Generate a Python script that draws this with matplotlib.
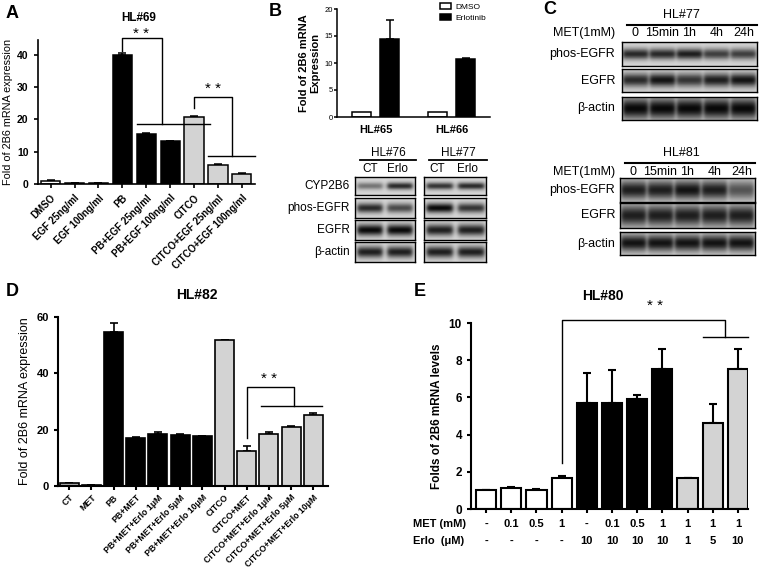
import numpy as np
import matplotlib
matplotlib.use('Agg')
import matplotlib.pyplot as plt

plt.rcParams['font.family'] = ['Liberation Sans', 'DejaVu Sans']

# ---- panel A (HL#69) ----
a_labels = ['DMSO', 'EGF 25ng/ml', 'EGF 100ng/ml', 'PB', 'PB+EGF 25ng/ml', 'PB+EGF 100ng/ml',
            'CITCO', 'CITCO+EGF 25ng/ml', 'CITCO+EGF 100ng/ml']
a_vals = [1.0, 0.4, 0.3, 39.8, 15.4, 13.2, 20.6, 5.8, 3.2]
a_errs = [0.1, 0.05, 0.05, 0.6, 0.3, 0.2, 0.3, 0.3, 0.1]
a_colors = ['white'] * 3 + ['black'] * 3 + ['#d3d3d3'] * 3

# ---- panel B ----
b_groups = ['HL#65', 'HL#66']
b_dmso = [1.0, 1.0]
b_erlo = [14.5, 10.8]
b_erlo_err = [3.5, 0.2]
b_rows = ['CYP2B6', 'phos-EGFR', 'EGFR', 'β-actin']
b_hl76 = [[0.45, 0.8], [0.8, 0.65], [0.95, 0.95], [0.85, 0.85]]
b_hl77 = [[0.75, 0.8], [0.95, 0.75], [0.85, 0.85], [0.85, 0.85]]

# ---- panel C ----
c_lanes = ['0', '15min', '1h', '4h', '24h']
c_rows = ['phos-EGFR', 'EGFR', 'β-actin']
c_hl77 = [[0.8, 0.8, 0.85, 0.7, 0.7], [0.8, 0.9, 0.75, 0.85, 0.9], [0.95, 0.95, 0.95, 0.95, 0.95]]
c_hl81 = [[0.85, 0.85, 0.9, 0.85, 0.6], [0.85, 0.85, 0.85, 0.85, 0.85], [0.9, 0.9, 0.9, 0.9, 0.9]]

# ---- panel D (HL#82) ----
d_labels = ['CT', 'MET', 'PB', 'PB+MET', 'PB+MET+Erlo 1μM', 'PB+MET+Erlo 5μM', 'PB+MET+Erlo 10μM',
            'CITCO', 'CITCO+MET', 'CITCO+MET+Erlo 1μM', 'CITCO+MET+Erlo 5μM', 'CITCO+MET+Erlo 10μM']
d_vals = [1.0, 0.3, 54.8, 17.0, 18.6, 18.2, 17.7, 51.7, 12.4, 18.6, 20.8, 25.2]
d_errs = [0.2, 0.1, 3.0, 0.4, 0.5, 0.4, 0.2, 0.3, 1.8, 0.6, 0.5, 0.6]
d_colors = ['#a8a8a8', '#a8a8a8'] + ['black'] * 5 + ['#d3d3d3'] * 5

# ---- panel E (HL#80) ----
e_vals = [1.0, 1.12, 1.03, 1.65, 5.72, 5.7, 5.93, 7.52, 1.68, 4.65, 7.52]
e_errs = [0.02, 0.06, 0.02, 0.15, 1.6, 1.8, 0.22, 1.1, 0.0, 1.0, 1.1]
e_colors = ['white'] * 4 + ['black'] * 4 + ['#d3d3d3'] * 3
e_met = ['-', '0.1', '0.5', '1', '-', '0.1', '0.5', '1', '1', '1', '1']
e_erlo = ['-', '-', '-', '-', '10', '10', '10', '10', '1', '5', '10']

W, H = 759, 570
fig = plt.figure(figsize=(W / 100, H / 100), dpi=100)


def box(l, t, r, b):
    return [l / W, 1 - b / H, (r - l) / W, (b - t) / H]


def ftxt(x, y, s, **kw):
    kw.setdefault('va', 'center')
    fig.text(x / W, 1 - y / H, s, **kw)


def style(ax, lw=1.3, fs=8):
    for s in ['top', 'right']:
        ax.spines[s].set_visible(False)
    for s in ['left', 'bottom']:
        ax.spines[s].set_linewidth(lw)
    ax.tick_params(axis='y', width=lw, length=3, labelsize=fs)
    ax.tick_params(axis='x', width=lw, length=3)
    for t in ax.get_yticklabels():
        t.set_fontweight('bold')


def bars(ax, vals, errs, colors, width=0.8, lw=1.2):
    x = np.arange(len(vals))
    ax.bar(x, vals, width=width, color=colors, edgecolor='black', linewidth=lw, zorder=2)
    ax.errorbar(x, vals, yerr=[np.zeros(len(vals)), errs], fmt='none', ecolor='black',
                elinewidth=lw, capsize=3, capthick=lw, zorder=1)
    return x


def bracket(ax, xs, ys, lw=1.0):
    ax.plot(xs, ys, color='black', lw=lw, clip_on=False)


def blot(l, t, r, b, intens, sigma, half=0.42):
    ax = fig.add_axes(box(l, t, r, b))
    n = len(intens)
    nx, ny = 60 * n, 40
    xs = (np.arange(nx) + 0.5) / nx * n
    ys = (np.arange(ny) + 0.5) / ny
    img = np.full((ny, nx), 0.84)
    vp = np.exp(-0.5 * ((ys - 0.5) / sigma) ** 2)
    for i, v in enumerate(intens):
        hp = 1 / (1 + np.exp((np.abs(xs - (i + 0.5)) - half) / 0.04))
        img -= 0.85 * v * np.outer(vp, hp)
    ax.imshow(np.clip(img, 0, 1), cmap='gray', vmin=0, vmax=1, extent=(0, n, 0, 1),
              aspect='auto', interpolation='bilinear')
    ax.set_xticks([])
    ax.set_yticks([])
    for s in ax.spines.values():
        s.set_linewidth(1.0)
    return ax


# ================= A =================
axA = fig.add_axes(box(37.5, 40, 255, 184))
xa = bars(axA, a_vals, a_errs, a_colors, width=0.8, lw=1.1)
axA.set_xlim(-0.55, 8.55)
axA.set_ylim(0, 44.5)
axA.set_yticks([0, 10, 20, 30, 40])
axA.set_xticks(xa)
style(axA, lw=1.2, fs=7.5)
axA.set_xticklabels(a_labels, rotation=45, ha='right', rotation_mode='anchor',
                    fontsize=7, fontweight='bold')
axA.set_ylabel('Fold of 2B6 mRNA expression', fontsize=7.8, labelpad=3)
bracket(axA, [3, 3, 4.65, 4.65], [41, 45, 45, 18.4])
bracket(axA, [3.6, 6.67], [18.4, 18.4])
bracket(axA, [6, 6, 7.6, 7.6], [23.5, 26.8, 26.8, 8.5])
bracket(axA, [6.6, 8.55], [8.5, 8.5])
axA.text(3.8, 46.3, '* *', ha='center', va='center', fontsize=11, clip_on=False)
axA.text(6.8, 29.3, '* *', ha='center', va='center', fontsize=11)
ftxt(139, 18, 'HL#69', fontsize=8.5, fontweight='bold', ha='center')
ftxt(6, 13, 'A', fontsize=13, fontweight='bold')

# ================= B =================
axB = fig.add_axes(box(337, 9, 490, 117))
xb = np.arange(len(b_groups))
axB.bar(xb - 0.184, b_dmso, width=0.25, color='white', edgecolor='black', lw=1.1, label='DMSO')
axB.bar(xb + 0.184, b_erlo, width=0.25, color='black', edgecolor='black', lw=1.1, label='Erlotinib')
axB.errorbar(xb + 0.184, b_erlo, yerr=[np.zeros(2), b_erlo_err], fmt='none', ecolor='black',
             elinewidth=1.1, capsize=3, capthick=1.1)
axB.set_xlim(-0.51, 1.5)
axB.set_ylim(0, 20)
axB.set_yticks([0, 5, 10, 15, 20])
axB.set_xticks(xb)
style(axB, lw=1.1, fs=5.5)
axB.set_xticklabels(b_groups, fontsize=8, fontweight='bold')
for t in axB.get_yticklabels():
    t.set_fontweight('normal')
axB.tick_params(axis='x', length=0, pad=6)
axB.tick_params(axis='y', length=2, pad=1)
axB.set_ylabel('Fold of 2B6 mRNA\nExpression', fontsize=8, fontweight='bold', labelpad=3)
axB.legend(loc='upper left', bbox_to_anchor=(440 / W, 1 - 3 / H), bbox_transform=fig.transFigure,
           fontsize=6, frameon=False, handlelength=1.3, handleheight=0.8, handletextpad=0.5,
           labelspacing=0.3, borderpad=0, borderaxespad=0)
ftxt(269, 11, 'B', fontsize=13, fontweight='bold')

b_row_px = [(177, 195), (198, 218), (220, 240), (242, 262)]
b_sig = [0.14, 0.17, 0.2, 0.2]
for (x0, x1, data, title, lx) in [(355, 415, b_hl76, 'HL#76', (370, 397)),
                                  (424, 486, b_hl77, 'HL#77', (437, 468))]:
    for (t, b), vals, sg in zip(b_row_px, data, b_sig):
        blot(x0, t, x1, b, vals, sg)
    ftxt((x0 + x1) / 2 + 3, 153, title, fontsize=8.5, ha='center')
    fig.add_artist(plt.Line2D([(x0 + 5) / W, (x1 + 1) / W], [1 - 160 / H] * 2, color='black', lw=1.3))
    ftxt(lx[0], 169, 'CT', fontsize=8.5, ha='center')
    ftxt(lx[1], 169, 'Erlo', fontsize=8.5, ha='center')
for (t, b), name in zip(b_row_px, b_rows):
    ftxt(350, (t + b) / 2, name, fontsize=8.5, ha='right')

# ================= C =================
ftxt(543, 9, 'C', fontsize=13, fontweight='bold')
c_sets = [(c_hl77, 'HL#77', 15, 25, 33, [(42, 66), (69, 92), (97, 120)], (622, 757), [0.16, 0.2, 0.32]),
          (c_hl81, 'HL#81', 153, 163, 172, [(178, 202), (203, 228), (232, 255)], (620, 755), [0.28, 0.3, 0.25])]
for data, title, ty, ly, my, rows, (x0, x1), sigs in c_sets:
    for (t, b), vals, sg, name in zip(rows, data, sigs, c_rows):
        blot(x0, t, x1, b, vals, sg, half=0.47)
        ftxt(615, (t + b) / 2, name, fontsize=9, ha='right')
    ftxt(681, ty, title, fontsize=9, ha='center')
    fig.add_artist(plt.Line2D([(x0 + 5) / W, x1 / W], [1 - ly / H] * 2, color='black', lw=1.5))
    ftxt(615, my, 'MET(1mM)', fontsize=9, ha='right')
    lane_w = (x1 - x0) / len(c_lanes)
    for i, lab in enumerate(c_lanes):
        ftxt(x0 + lane_w * (i + 0.5), my, lab, fontsize=9, ha='center')

# ================= D =================
axD = fig.add_axes(box(58, 317, 328, 486))
xd = bars(axD, d_vals, d_errs, d_colors, width=0.86, lw=1.2)
axD.set_xlim(-0.5, 11.66)
axD.set_ylim(0, 60)
axD.set_yticks([0, 20, 40, 60])
axD.set_xticks(xd)
style(axD, lw=1.5, fs=8)
axD.set_xticklabels(d_labels, rotation=45, ha='right', rotation_mode='anchor',
                    fontsize=6.3, fontweight='bold')
axD.tick_params(axis='x', pad=2)
axD.set_ylabel('Fold of 2B6 mRNA expression', fontsize=9, labelpad=4)
bracket(axD, [8, 8, 10.15, 10.15], [16.9, 35, 35, 28.3])
bracket(axD, [8.66, 11.4], [28.3, 28.3])
axD.text(9.0, 38, '* *', ha='center', va='center', fontsize=11)
ftxt(197, 295, 'HL#82', fontsize=10, fontweight='bold', ha='center')
ftxt(6, 292, 'D', fontsize=13, fontweight='bold')

# ================= E =================
axE = fig.add_axes(box(471, 323, 748, 509))
xe = bars(axE, e_vals, e_errs, e_colors, width=0.8, lw=1.5)
axE.set_xlim(-0.6, 10.4)
axE.set_ylim(0, 10)
axE.set_yticks([0, 2, 4, 6, 8, 10])
axE.set_xticks(xe)
axE.set_xticklabels([])
style(axE, lw=1.5, fs=8.5)
axE.set_ylabel('Folds of 2B6 mRNA levels', fontsize=8.5, fontweight='bold', labelpad=4)
bracket(axE, [3, 3, 9.5, 9.5], [2.5, 10.18, 10.18, 9.23])
bracket(axE, [8.6, 10.4], [9.23, 9.23])
axE.text(6.7, 10.9, '* *', ha='center', va='center', fontsize=11, clip_on=False)
for i in range(len(e_vals)):
    axE.text(xe[i], -0.08, e_met[i], transform=axE.get_xaxis_transform(), ha='center', va='center',
             fontsize=8, fontweight='bold')
    axE.text(xe[i], -0.172, e_erlo[i], transform=axE.get_xaxis_transform(), ha='center', va='center',
             fontsize=8, fontweight='bold')
ftxt(413, 524, 'MET (mM)', fontsize=8, fontweight='bold')
ftxt(413, 541, 'Erlo  (μM)', fontsize=8, fontweight='bold')
ftxt(603, 296, 'HL#80', fontsize=10, fontweight='bold', ha='center')
ftxt(414, 292, 'E', fontsize=13, fontweight='bold')

fig.savefig('out.png', dpi=100)
